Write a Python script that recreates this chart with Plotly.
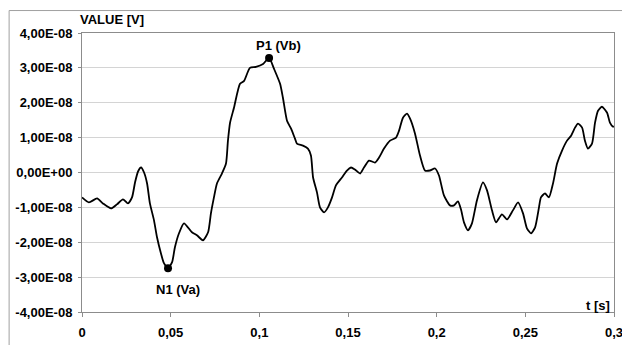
import plotly.graph_objects as go

# Time [s] and value [1e-8 V]
t = [0.0000, 0.0039, 0.0085, 0.0118, 0.0164, 0.0197, 0.0231, 0.0259, 0.0282, 0.0299,
     0.0316, 0.0333, 0.0350, 0.0367, 0.0383, 0.0406, 0.0423, 0.0445, 0.0462, 0.0485,
     0.0508, 0.0524, 0.0547, 0.0575, 0.0620, 0.0648, 0.0682, 0.0711, 0.0727, 0.0744,
     0.0761, 0.0789, 0.0812, 0.0823, 0.0835, 0.0857, 0.0891, 0.0914, 0.0947, 0.0981,
     0.1021, 0.1055, 0.1083, 0.1117, 0.1133, 0.1156, 0.1179, 0.1201, 0.1212, 0.1246,
     0.1274, 0.1291, 0.1303, 0.1325, 0.1342, 0.1365, 0.1387, 0.1410, 0.1432, 0.1466,
     0.1494, 0.1517, 0.1539, 0.1568, 0.1590, 0.1618, 0.1652, 0.1675, 0.1703, 0.1737,
     0.1771, 0.1788, 0.1810, 0.1833, 0.1850, 0.1878, 0.1906, 0.1934, 0.1962, 0.1991,
     0.2013, 0.2041, 0.2075, 0.2098, 0.2120, 0.2137, 0.2154, 0.2177, 0.2199, 0.2227,
     0.2261, 0.2284, 0.2312, 0.2335, 0.2368, 0.2397, 0.2430, 0.2459, 0.2487, 0.2509,
     0.2532, 0.2555, 0.2577, 0.2588, 0.2611, 0.2633, 0.2656, 0.2679, 0.2707, 0.2735,
     0.2758, 0.2780, 0.2797, 0.2820, 0.2836, 0.2853, 0.2876, 0.2893, 0.2910, 0.2932,
     0.2961, 0.2977, 0.2994, 0.3000]
v_e8 = [-0.714, -0.857, -0.743, -0.886, -1.029, -0.914, -0.771, -0.886, -0.714, -0.286,
        0.029, 0.143, 0.000, -0.314, -0.886, -1.371, -1.857, -2.314, -2.600, -2.743,
        -2.571, -2.143, -1.743, -1.457, -1.714, -1.800, -1.943, -1.714, -1.171, -0.714,
        -0.314, -0.029, 0.257, 0.914, 1.429, 1.857, 2.543, 2.629, 3.000, 3.029,
        3.114, 3.286, 2.971, 2.543, 2.143, 1.486, 1.257, 0.971, 0.829, 0.771,
        0.686, 0.486, -0.143, -0.571, -1.000, -1.143, -1.000, -0.714, -0.371, -0.143,
        0.057, 0.143, 0.086, -0.029, 0.143, 0.343, 0.286, 0.429, 0.686, 0.914,
        1.000, 1.200, 1.571, 1.686, 1.543, 1.114, 0.486, 0.057, 0.057, 0.114,
        -0.086, -0.657, -0.943, -0.943, -0.829, -1.057, -1.429, -1.657, -1.457, -0.800,
        -0.286, -0.514, -1.086, -1.429, -1.200, -1.343, -1.086, -0.857, -1.171, -1.600,
        -1.743, -1.571, -1.000, -0.714, -0.600, -0.714, -0.314, 0.257, 0.629, 0.914,
        1.057, 1.286, 1.400, 1.286, 0.914, 0.686, 0.829, 1.429, 1.771, 1.886,
        1.714, 1.429, 1.314, 1.314]
values = [v * 1e-8 for v in v_e8]

peak_names = ["N1 (Va)", "P1 (Vb)"]
peak_t = [0.0485, 0.1055]
peak_v = [-2.743e-8, 3.286e-8]

y_tickvals = [-4e-8, -3e-8, -2e-8, -1e-8, 0, 1e-8, 2e-8, 3e-8, 4e-8]
y_ticktext = ["-4,00E-08", "-3,00E-08", "-2,00E-08", "-1,00E-08", "0,00E+00",
              "1,00E-08", "2,00E-08", "3,00E-08", "4,00E-08"]
x_tickvals = [0, 0.05, 0.1, 0.15, 0.2, 0.25, 0.3]
x_ticktext = ["0", "0,05", "0,1", "0,15", "0,2", "0,25", "0,3"]

FONT = "Liberation Sans, Arial, sans-serif"
bold = dict(family=FONT, size=13, color="black", weight="bold")

fig = go.Figure()
fig.add_trace(go.Scatter(x=t, y=values, mode="lines",
                         line=dict(color="black", width=1.8, shape="spline", smoothing=0.6),
                         hoverinfo="skip", showlegend=False))
fig.add_trace(go.Scatter(x=peak_t, y=peak_v, mode="markers",
                         marker=dict(color="black", size=8), showlegend=False))

border = dict(color="#a0a0a0", width=1)
# the page body adds an 8px offset, so the figure is 622x337
fig.update_layout(
    width=622, height=337,
    margin=dict(l=74, r=16, t=25, b=33, autoexpand=False),
    paper_bgcolor="white", plot_bgcolor="white",
    font=bold,
    xaxis=dict(range=[0, 0.3], tickvals=x_tickvals, ticktext=x_ticktext,
               showgrid=False, zeroline=False, showline=True, linecolor="#8c8c8c",
               linewidth=1, mirror=True, ticks="outside", ticklen=4, tickcolor="#8c8c8c",
               tickfont=bold, ticklabelstandoff=4, automargin=False),
    yaxis=dict(range=[-4e-8, 4e-8], tickvals=y_tickvals, ticktext=y_ticktext,
               showgrid=True, gridcolor="#d4d4d4", gridwidth=1, zeroline=False,
               showline=True, linecolor="#8c8c8c", linewidth=1, mirror=True,
               ticks="outside", ticklen=3, tickcolor="#8c8c8c",
               tickfont=bold, ticklabelstandoff=3, automargin=False),
    shapes=[
        dict(type="line", xref="paper", yref="paper",
             x0=-0.137, x1=1.1, y0=1.0805, y1=1.0805, line=border),
        dict(type="line", xref="paper", yref="paper",
             x0=-0.137, x1=-0.137, y0=1.0805, y1=-0.2, line=border),
    ],
    annotations=[
        dict(text="VALUE [V]", xref="paper", yref="paper", x=-0.0075, y=1.0466,
             xanchor="left", yanchor="middle", showarrow=False, font=bold),
        dict(text="t [s]", xref="paper", yref="paper", x=0.9962, y=0.025,
             xanchor="right", yanchor="middle", showarrow=False, font=bold),
        dict(text=peak_names[1], x=peak_t[1], y=peak_v[1], xanchor="center",
             yanchor="bottom", xshift=9, yshift=3, showarrow=False, font=bold),
        dict(text=peak_names[0], x=peak_t[0], y=peak_v[0], xanchor="center",
             yanchor="top", xshift=10, yshift=-12, showarrow=False, font=bold),
    ],
)

fig.write_html("out.html")
